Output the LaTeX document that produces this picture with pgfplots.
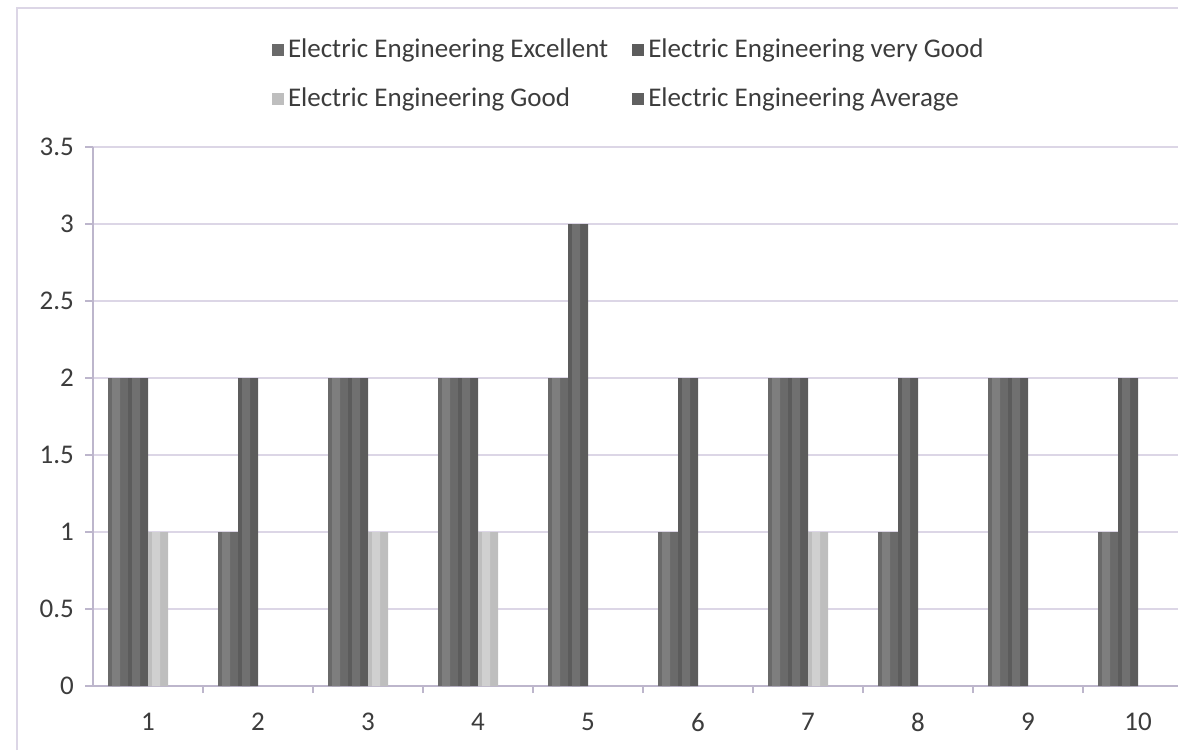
\documentclass[border=0pt]{standalone}
\usepackage{pgfplots}
\pgfplotsset{compat=1.18}
\usepackage{fontspec}
\setmainfont{Carlito}
\definecolor{gridc}{HTML}{DCD6E6}
\definecolor{axc}{HTML}{BDB6CC}
\definecolor{txt}{HTML}{3C3C3C}
\definecolor{cExc}{HTML}{6A6A6A}
\definecolor{cExcL}{HTML}{7E7E7E}
\definecolor{cVG}{HTML}{5C5C5C}
\definecolor{cVGL}{HTML}{707070}
\definecolor{cGood}{HTML}{BEBEBE}
\definecolor{cGoodL}{HTML}{D0D0D0}
\definecolor{cAvg}{HTML}{606060}
\pgfplotstableread{
x exc vg good
1 2 2 1
2 1 2 0
3 2 2 1
4 2 2 1
5 2 3 0
6 1 2 0
7 2 2 1
8 1 2 0
9 2 2 0
10 1 2 0
}\datatable
\begin{document}
\begin{tikzpicture}
\path[use as bounding box] (0,0) rectangle (589pt,375pt);
\draw[color=gridc, line width=0.6pt] (8.5pt,0) -- (8.5pt,371pt) -- (589pt,371pt);
\begin{axis}[
  at={(46.5pt,32pt)}, anchor=south west,
  scale only axis, width=542.5pt, height=269.5pt,
  xmin=0.5, xmax=10.3636, ymin=0, ymax=3.5,
  axis line style={color=axc, line width=0.6pt},
  axis x line*=bottom, axis y line*=left,
  xtick={1,2,3,4,5,6,7,8,9,10},
  minor xtick={1.5,2.5,3.5,4.5,5.5,6.5,7.5,8.5,9.5},
  major x tick style={draw=none},
  minor tick length=3.5pt,
  ytick={0,0.5,1,1.5,2,2.5,3,3.5},
  yticklabels={0,0.5,1,1.5,2,2.5,3,3.5},
  major tick length=4pt,
  tick align=outside,
  tick style={color=axc, line width=0.6pt},
  ymajorgrids, grid style={color=gridc, line width=0.6pt},
  /pgf/number format/assume math mode=true,
  ticklabel style={font=\fontsize{13.5}{16}\selectfont, text=txt},
  xticklabel style={yshift=-6pt},
  yticklabel style={xshift=-2pt},
  ybar=0pt, bar width=10pt,
  legend columns=2, legend cell align=left,
  legend style={draw=none, fill=none, inner sep=0pt, outer sep=0pt,
    at={(0.165,1.208)}, anchor=north west,
    font=\fontsize{13.5}{16}\selectfont, text=txt, row sep=9.5pt,
    nodes={inner xsep=2pt},
    /tikz/every even column/.append style={column sep=10pt}},
  legend image code/.code={\fill[#1] (0pt,-3pt) rectangle (6pt,3pt);},
]
% Excellent
\addplot[draw=none, fill=cExc, bar shift=-15pt] table[x=x, y=exc] {\datatable};
% very Good
\addplot[draw=none, fill=cVG, bar shift=-5pt] table[x=x, y=vg] {\datatable};
% Good (zero values are not drawn)
\addplot[draw=none, fill=cGood, bar shift=5pt] table[x=x, y=good, restrict y to domain=0.01:10] {\datatable};
% Average (all zero)
\addplot[draw=none, fill=none, bar shift=15pt,
  legend image code/.code={\fill[cAvg] (0pt,-3pt) rectangle (6pt,3pt);}]
  coordinates {(1,0) (2,0) (3,0) (4,0) (5,0) (6,0) (7,0) (8,0) (9,0) (10,0)};
\legend{Electric Engineering Excellent, Electric Engineering very Good, Electric Engineering Good, Electric Engineering Average}
% cylinder highlights (same data, narrower lighter stripe)
\addplot[forget plot, draw=none, fill=cExcL, bar width=4pt, bar shift=-16pt] table[x=x, y=exc] {\datatable};
\addplot[forget plot, draw=none, fill=cVGL, bar width=4pt, bar shift=-6pt] table[x=x, y=vg] {\datatable};
\addplot[forget plot, draw=none, fill=cGoodL, bar width=4pt, bar shift=4pt] table[x=x, y=good, restrict y to domain=0.01:10] {\datatable};
\end{axis}
\end{tikzpicture}
\end{document}
